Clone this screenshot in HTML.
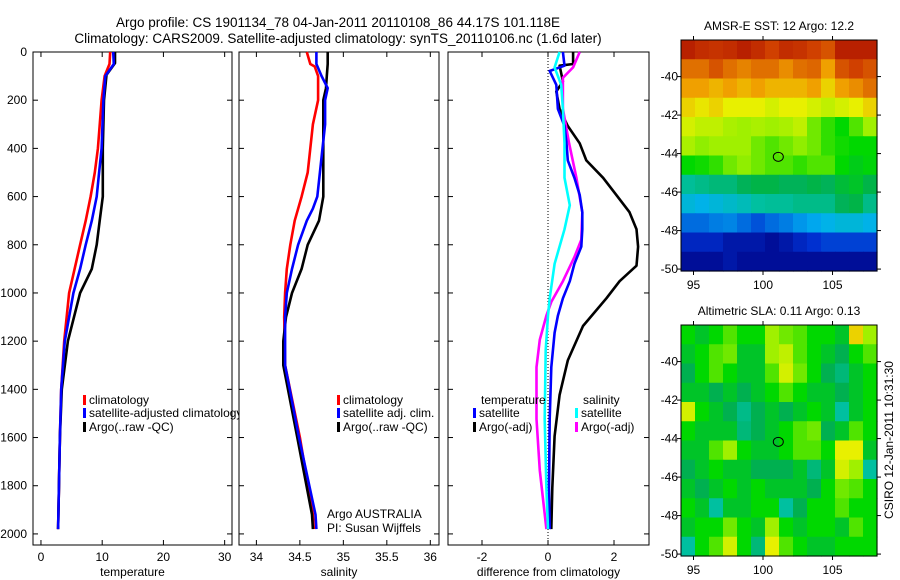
<!DOCTYPE html>
<html><head><meta charset="utf-8"><style>
html,body{margin:0;padding:0;background:#fff;}
svg{display:block;font-family:"Liberation Sans",sans-serif;}
</style></head><body>
<svg id="chart" width="900" height="580" viewBox="0 0 900 580">
<text x="338" y="27" font-size="13.5" text-anchor="middle">Argo profile: CS 1901134_78 04-Jan-2011 20110108_86 44.17S 101.118E</text>
<text x="338" y="43" font-size="13.5" text-anchor="middle">Climatology: CARS2009. Satellite-adjusted climatology: synTS_20110106.nc (1.6d later)</text>
<g id="layer"></g>
</svg>
<script>
// ---- temperature panel data ----
const tDepthClim = [0,50,100,200,400,500,600,700,800,900,1000,1200,1400,1600,1980];
const tClim      = [11.3,11.2,10.4,9.9,9.3,8.8,8.1,7.3,6.4,5.5,4.6,3.8,3.3,3.1,2.8];
const tDepthSat  = [0,50,100,200,400,500,600,700,800,900,1000,1200,1400,1600,1980];
const tSat       = [11.8,11.9,10.5,10.2,9.9,9.5,9.1,8.3,7.3,6.4,5.3,3.9,3.3,3.1,2.8];
const tDepthArgo = [0,46,95,200,400,600,700,800,900,1000,1200,1400,1600,1980];
const tArgo      = [12.1,12.1,10.7,10.3,10.1,10.1,9.6,9.1,8.3,6.4,4.4,3.4,3.1,2.8];
// ---- salinity panel data ----
const sDepthClim = [0,50,60,100,200,300,400,500,600,700,800,900,1000,1100,1300,1600,1920,1980];
const sClim      = [34.58,34.62,34.67,34.71,34.71,34.65,34.62,34.59,34.52,34.44,34.39,34.35,34.33,34.32,34.33,34.50,34.65,34.66];
const sDepthSat  = [0,50,100,150,200,300,400,500,600,650,700,800,900,1000,1100,1300,1600,1920,1980];
const sSat       = [34.69,34.69,34.75,34.82,34.79,34.79,34.76,34.73,34.70,34.65,34.58,34.48,34.41,34.35,34.33,34.33,34.49,34.68,34.69];
const sDepthArgo = [0,50,100,150,200,400,600,700,800,900,1000,1100,1200,1300,1600,1920,1980];
const sArgo      = [34.82,34.82,34.81,34.80,34.77,34.77,34.77,34.72,34.59,34.52,34.41,34.34,34.31,34.31,34.47,34.64,34.65];
// ---- difference panel data ----
const dDepthTA = [0,50,57,122,164,236,307,379,450,522,593,665,736,808,887,951,1022,1137,1280,1423,1594,1809,1980];
const dTempArgo= [0.76,0.76,0.35,0.45,0.25,0.35,0.6,0.96,1.16,1.67,2.07,2.47,2.68,2.73,2.68,2.17,1.77,1.06,0.6,0.35,0.2,0.13,0.1];
const dDepthTS = [0,57,79,136,236,307,379,450,522,593,665,736,808,879,951,1022,1094,1165,1308,1523,1809,1980];
const dTempSat = [0.45,0.5,0.05,0.25,0.3,0.5,0.56,0.6,0.8,0.96,1.04,1.04,1.01,0.8,0.66,0.45,0.3,0.2,0.1,0.05,0.03,0.05];
const dDepthSS = [0,64,136,236,379,522,636,736,879,1022,1094,1237,1523,1809,1980];
const dSalSat  = [0.35,0.2,0.4,0.45,0.5,0.5,0.66,0.5,0.2,0.05,0,-0.07,-0.1,-0.05,0];
const dDepthSA = [0,64,107,236,379,522,665,779,851,951,1037,1094,1194,1308,1523,1737,1980];
const dSalArgo = [0.96,0.76,0.45,0.45,0.64,0.86,1.04,1.01,0.8,0.45,0.1,-0.05,-0.25,-0.35,-0.35,-0.25,-0.05];
// ---- map data (rows north->south, cols west->east) ----
const sstGrid = [
[0.95,0.93,0.92,0.93,0.95,0.93,0.9,0.93,0.92,0.9,0.88,0.95,0.95,0.95],
[0.85,0.85,0.88,0.85,0.83,0.85,0.85,0.82,0.85,0.86,0.8,0.88,0.9,0.88],
[0.8,0.8,0.78,0.8,0.78,0.8,0.78,0.78,0.78,0.8,0.75,0.8,0.82,0.85],
[0.75,0.73,0.75,0.72,0.72,0.72,0.7,0.72,0.72,0.7,0.68,0.7,0.72,0.75],
[0.7,0.68,0.68,0.66,0.65,0.66,0.65,0.66,0.68,0.62,0.58,0.55,0.6,0.65],
[0.66,0.64,0.65,0.65,0.65,0.62,0.6,0.62,0.64,0.62,0.58,0.56,0.55,0.55],
[0.55,0.56,0.58,0.62,0.64,0.62,0.6,0.6,0.58,0.6,0.6,0.55,0.52,0.54],
[0.36,0.38,0.4,0.4,0.44,0.46,0.46,0.44,0.44,0.46,0.44,0.48,0.5,0.46],
[0.28,0.26,0.28,0.3,0.32,0.35,0.36,0.36,0.38,0.38,0.38,0.44,0.46,0.38],
[0.17,0.17,0.19,0.2,0.17,0.14,0.17,0.19,0.22,0.24,0.26,0.28,0.28,0.26],
[0.08,0.08,0.08,0.05,0.05,0.05,0.03,0.05,0.08,0.1,0.12,0.12,0.12,0.12],
[0.03,0.03,0.03,0.05,0.03,0.03,0.03,0.03,0.03,0.03,0.03,0.03,0.03,0.03]];
const slaGrid = [
[0.55,0.5,0.55,0.6,0.55,0.55,0.65,0.62,0.6,0.55,0.55,0.5,0.75,0.65],
[0.5,0.55,0.6,0.62,0.5,0.5,0.65,0.68,0.6,0.55,0.5,0.45,0.55,0.6],
[0.45,0.55,0.6,0.55,0.5,0.5,0.6,0.7,0.62,0.55,0.45,0.4,0.5,0.55],
[0.5,0.5,0.45,0.5,0.45,0.5,0.55,0.6,0.55,0.5,0.5,0.45,0.5,0.55],
[0.7,0.55,0.5,0.45,0.38,0.45,0.5,0.45,0.5,0.55,0.5,0.35,0.5,0.55],
[0.55,0.5,0.5,0.5,0.4,0.45,0.5,0.55,0.6,0.62,0.45,0.5,0.6,0.55],
[0.5,0.5,0.6,0.65,0.55,0.5,0.5,0.55,0.6,0.6,0.55,0.72,0.72,0.5],
[0.45,0.5,0.55,0.5,0.5,0.45,0.45,0.45,0.5,0.4,0.5,0.7,0.65,0.35],
[0.5,0.45,0.5,0.55,0.5,0.55,0.5,0.5,0.5,0.45,0.55,0.62,0.6,0.55],
[0.55,0.5,0.35,0.5,0.5,0.55,0.55,0.35,0.45,0.55,0.55,0.6,0.55,0.55],
[0.5,0.55,0.55,0.62,0.55,0.5,0.65,0.55,0.5,0.55,0.55,0.5,0.6,0.55],
[0.35,0.55,0.6,0.7,0.55,0.4,0.72,0.6,0.55,0.5,0.5,0.55,0.55,0.55]];
const mapLonRange = [94.1,108.2];
const mapLatRange = [-38.1,-50.1];
const argoLon = 101.1, argoLat = -44.17;
const lonTicks = [95,100,105];
const latTicks = [-40,-42,-44,-46,-48,-50];
const depthTicks = [0,200,400,600,800,1000,1200,1400,1600,1800,2000];
const tempTicks = [0,10,20,30];
const salTicks = [34,34.5,35,35.5,36];
const salTickLabels = ["34","34.5","35","35.5","36"];
const diffTicks = [-2,0,2];

const NS='http://www.w3.org/2000/svg';
const layer=document.getElementById('layer');
function mk(tag,attrs,parent){const e=document.createElementNS(NS,tag);for(const k in attrs)e.setAttribute(k,attrs[k]);(parent||layer).appendChild(e);return e;}
function lin(d0,d1,r0,r1){return v=>r0+(v-d0)*(r1-r0)/(d1-d0);}
const yDepth=lin(0,2046,52,545);

const pal=[[0,[0,0,128]],[0.1,[0,48,208]],[0.25,[0,176,240]],[0.35,[0,192,160]],[0.45,[0,176,80]],[0.55,[0,216,0]],[0.65,[160,240,0]],[0.72,[232,240,0]],[0.8,[240,160,0]],[0.9,[208,64,0]],[1,[160,0,0]]];
function col(v){for(let i=1;i<pal.length;i++){if(v<=pal[i][0]){const a=pal[i-1],b=pal[i];const t=(v-a[0])/(b[0]-a[0]);const c=a[1].map((x,j)=>Math.round(x+(b[1][j]-x)*t));return 'rgb('+c.join(',')+')';}}return 'rgb(160,0,0)';}

function panel(name,x0,x1,xd0,xd1,xt,xtl,xlabel,showY){
  const g=mk('g',{});
  
  
  const rect=mk('rect',{x:x0,y:52,width:x1-x0,height:493,fill:'#fff',stroke:'#000','stroke-width':1},g);
  
  
  const sx=lin(xd0,xd1,x0,x1);
  xt.forEach((v,i)=>{const X=sx(v);
    mk('line',{x1:X,x2:X,y1:52,y2:57,stroke:'#000'},g);mk('line',{x1:X,x2:X,y1:545,y2:540,stroke:'#000'},g);
    const t=mk('text',{x:X,y:561,'font-size':12,'text-anchor':'middle'},g);t.textContent=xtl[i];
    
    });
  depthTicks.forEach(v=>{const Y=yDepth(v);
    mk('line',{x1:x0,x2:x0+5,y1:Y,y2:Y,stroke:'#000'},g);mk('line',{x1:x1,x2:x1-5,y1:Y,y2:Y,stroke:'#000'},g);
    if(showY){const t=mk('text',{x:x0-6,y:Y+4,'font-size':12,'text-anchor':'end'},g);t.textContent=v;
      
      }});
  const xl=mk('text',{x:(x0+x1)/2,y:576,'font-size':12,'text-anchor':'middle'},g);xl.textContent=xlabel;
  
  
  return {g,sx};
}
function series(p,depths,vals,color,name,clip){
  const pts=depths.map((d,i)=>p.sx(vals[i]).toFixed(1)+','+yDepth(d).toFixed(1)).join(' ');
  const pl=mk('polyline',{points:pts,fill:'none',stroke:color,'stroke-width':2.6,'stroke-linejoin':'round'},p.g);
  
  
}
function legend(g,x,y,color,label,name){
  const r=mk('rect',{x:x,y:y-9,width:3,height:10,fill:color},g);
  
  
  const t=mk('text',{x:x+6,y:y,'font-size':12},g);t.textContent=label;
  
  
}

// Panel 1 temperature
const p1=panel('temperature',33,232,-1.3,31.2,tempTicks,tempTicks.map(String),'temperature',true);
series(p1,tDepthClim,tClim,'#f00','temp-climatology-line');
series(p1,tDepthArgo,tArgo,'#000','temp-argo-line');
series(p1,tDepthSat,tSat,'#00f','temp-satellite-line');
legend(p1.g,83,404,'#f00','climatology','legend-entry-climatology');
legend(p1.g,83,417,'#00f','satellite-adjusted climatology','legend-entry-satellite');
legend(p1.g,83,431,'#000','Argo(..raw -QC)','legend-entry-argo');
// Panel 2 salinity
const p2=panel('salinity',239,439,33.8,36.1,salTicks,salTickLabels,'salinity',false);
series(p2,sDepthClim,sClim,'#f00','sal-climatology-line');
series(p2,sDepthArgo,sArgo,'#000','sal-argo-line');
series(p2,sDepthSat,sSat,'#00f','sal-satellite-line');
legend(p2.g,337,404,'#f00','climatology','legend-entry-sal-climatology');
legend(p2.g,337,417,'#00f','satellite adj. clim.','legend-entry-sal-satellite');
legend(p2.g,337,431,'#000','Argo(..raw -QC)','legend-entry-sal-argo');
let tx=mk('text',{x:327,y:518,'font-size':12},p2.g);tx.textContent='Argo AUSTRALIA';


tx=mk('text',{x:327,y:532,'font-size':12},p2.g);tx.textContent='PI: Susan Wijffels';


// Panel 3 difference
const p3=panel('difference',448,649,-3.03,3.06,diffTicks,diffTicks.map(String),'difference from climatology',false);
const zl=mk('line',{x1:p3.sx(0),x2:p3.sx(0),y1:52,y2:545,stroke:'#000','stroke-dasharray':'1,2'},p3.g);


series(p3,dDepthTA,dTempArgo,'#000','diff-temp-argo-line');
series(p3,dDepthSA,dSalArgo,'#f0f','diff-sal-argo-line');
series(p3,dDepthTS,dTempSat,'#00f','diff-temp-satellite-line');
series(p3,dDepthSS,dSalSat,'#0ff','diff-sal-satellite-line');
tx=mk('text',{x:481,y:404,'font-size':12},p3.g);tx.textContent='temperature';


tx=mk('text',{x:583,y:404,'font-size':12},p3.g);tx.textContent='salinity';


legend(p3.g,473,417,'#00f','satellite','legend-entry-diff-temp-satellite');
legend(p3.g,473,431,'#000','Argo(-adj)','legend-entry-diff-temp-argo');
legend(p3.g,575,417,'#0ff','satellite','legend-entry-diff-sal-satellite');
legend(p3.g,575,431,'#f0f','Argo(-adj)','legend-entry-diff-sal-argo');

// Maps
function map(name,grid,y0,y1,title){
  const x0=681,x1=877;
  const g=mk('g',{});
  
  
  const sx=lin(mapLonRange[0],mapLonRange[1],x0,x1), sy=lin(mapLatRange[0],mapLatRange[1],y0,y1);
  const rows=grid.length, cols=grid[0].length;
  const cw=(x1-x0)/cols, ch=(y1-y0)/rows;
  grid.forEach((row,r)=>row.forEach((v,c)=>{
    const cell=mk('rect',{x:x0+c*cw,y:y0+r*ch,width:cw+0.6,height:ch+0.6,fill:col(v)},g);
    
    
  }));
  mk('rect',{x:x0,y:y0,width:x1-x0,height:y1-y0,fill:'none',stroke:'#000'},g);
  lonTicks.forEach(v=>{const X=sx(v);mk('line',{x1:X,x2:X,y1:y1,y2:y1+4,stroke:'#000'},g);mk('line',{x1:X,x2:X,y1:y0,y2:y0-4,stroke:'#000'},g);
    const t=mk('text',{x:X,y:y1+18,'font-size':12,'text-anchor':'middle'},g);t.textContent=v;
    
    });
  latTicks.forEach(v=>{const Y=sy(v);mk('line',{x1:x0,x2:x0-4,y1:Y,y2:Y,stroke:'#000'},g);mk('line',{x1:x1,x2:x1+4,y1:Y,y2:Y,stroke:'#000'},g);
    const t=mk('text',{x:x0-3,y:Y+4,'font-size':12,'text-anchor':'end'},g);t.textContent=v;
    
    });
  const c=mk('ellipse',{cx:sx(argoLon),cy:sy(argoLat),rx:5,ry:4.5,fill:'none',stroke:'#000'},g);
  
  
  const t=mk('text',{x:(x0+x1)/2,y:y0-10,'font-size':12,'text-anchor':'middle'},g);t.textContent=title;
  
  
}
map('sst-map',sstGrid,40,271,'AMSR-E SST: 12 Argo: 12.2');
map('sla-map',slaGrid,325,556,'Altimetric SLA: 0.11 Argo: 0.13');
tx=mk('text',{x:0,y:0,'font-size':12,'text-anchor':'middle',transform:'translate(893,440) rotate(-90)'});
tx.textContent='CSIRO 12-Jan-2011 10:31:30';


</script>
</body></html>
